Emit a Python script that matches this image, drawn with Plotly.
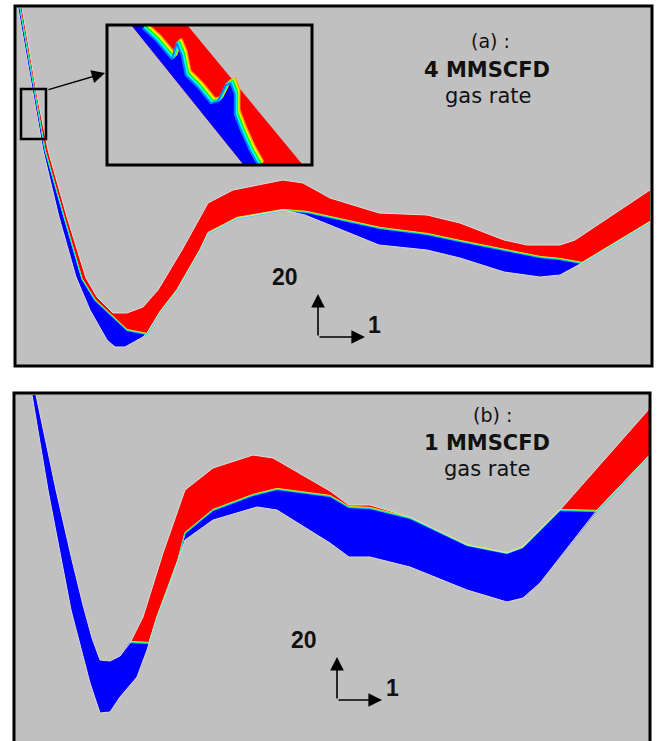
import plotly.graph_objects as go

W, H = 657, 741
GRAY = '#c0c0c0'
RED = '#ff0000'
BLUE = '#0000ff'
FONT = 'Arial, Liberation Sans, sans-serif'
FONT_W = 'DejaVu Sans, Verdana, sans-serif'

# ---------------- panel (a): 4 MMSCFD ----------------
a_top_x = [22, 38, 48, 67, 86, 97, 113, 127, 143, 158, 182, 208, 233, 283, 303, 330, 379, 427, 460, 504, 527, 560, 575, 650]
a_top_y = [8, 100, 150, 217, 278, 297, 313, 313, 307, 290, 250, 203, 190, 180, 183, 198, 213, 215, 223, 240, 245, 245, 240, 190]
a_bot_x = [18, 34, 43, 59, 76, 90, 107, 115, 125, 143, 147, 160, 177, 200, 208, 237, 283, 305, 379, 427, 460, 504, 540, 560, 582, 650]
a_bot_y = [8, 100, 150, 217, 277, 310, 340, 347, 347, 337, 333, 312, 290, 250, 233, 218, 210, 215, 245, 250, 258, 272, 277, 275, 263, 222]
a_liq1_x = [20, 36, 45, 64, 82, 95, 107, 127, 147, 143, 125, 115, 107, 90, 76, 59, 43, 34, 18]
a_liq1_y = [8, 100, 150, 217, 279, 300, 311, 330, 334, 337, 347, 347, 340, 310, 277, 217, 150, 100, 8]
a_liq2_x = [283, 307, 380, 427, 460, 504, 540, 560, 582, 560, 540, 504, 460, 427, 379, 305]
a_liq2_y = [210, 212, 228, 234, 241, 250, 257, 259, 263, 275, 277, 272, 258, 250, 245, 215]
a_if_x = [20, 36, 45, 64, 82, 95, 107, 127, 147, 160, 177, 200, 208, 237, 283, 307, 380, 427, 460, 504, 540, 560, 582, 650]
a_if_y = [8, 100, 150, 217, 279, 300, 311, 330, 334, 312, 290, 250, 233, 218, 210, 212, 228, 234, 241, 250, 257, 259, 263, 222]

# inset (zoomed view of the descending leg)
ins_band_x = [132, 188, 302, 243]
ins_band_y = [26, 26, 164, 164]
ins_if_x = [145, 158, 174, 179, 184, 188, 200, 213, 220, 228, 233, 237, 237, 243, 252, 261]
ins_if_y = [26, 38, 57, 41, 53, 73, 85, 101, 99, 83, 81, 92, 112, 128, 148, 164]

# ---------------- panel (b): 1 MMSCFD ----------------
b_top_x = [36, 56, 72, 83, 92, 100, 110, 120, 130, 143, 163, 185, 213, 253, 273, 330, 349, 370, 410, 467, 507, 523, 560, 650]
b_top_y = [395, 490, 560, 605, 638, 660, 661, 656, 643, 617, 553, 490, 468, 455, 458, 491, 505, 505, 517, 545, 553, 547, 510, 408]
b_bot_x = [32, 48, 71, 90, 100, 110, 120, 137, 147, 157, 170, 185, 213, 257, 277, 330, 349, 370, 410, 467, 507, 523, 540, 597, 650]
b_bot_y = [395, 490, 610, 683, 713, 712, 697, 677, 650, 617, 583, 540, 520, 507, 510, 543, 557, 557, 567, 590, 602, 598, 583, 510, 455]
b_liq1_x = [36, 56, 72, 83, 92, 100, 110, 120, 130, 149, 147, 137, 120, 110, 100, 90, 71, 48, 32]
b_liq1_y = [395, 490, 560, 605, 638, 660, 661, 656, 642, 643, 650, 677, 697, 712, 713, 683, 610, 490, 395]
b_liq2_x = [178, 185, 213, 253, 277, 330, 349, 370, 410, 467, 507, 523, 560, 597, 540, 523, 507, 467, 410, 370, 349, 330, 277, 257, 213, 185]
b_liq2_y = [560, 533, 510, 495, 489, 496, 507, 508, 518, 545, 553, 547, 510, 511, 583, 598, 602, 590, 567, 557, 557, 543, 510, 507, 520, 540]
b_if_x = [130, 149, 157, 170, 178, 185, 213, 253, 277, 330, 349, 370, 410, 467, 507, 523, 560, 597, 650]
b_if_y = [642, 643, 617, 583, 560, 533, 510, 495, 489, 496, 507, 508, 518, 545, 553, 547, 510, 511, 455]

# labels
a_label = ['(a) :', '<b>4 MMSCFD</b>', 'gas rate']
b_label = ['(b) :', '<b>1 MMSCFD</b>', 'gas rate']
axis_labels = ['<b>20</b>', '<b>1</b>']

fig = go.Figure()


def poly(xs, ys, color):
    fig.add_trace(go.Scatter(x=list(xs), y=list(ys), mode='lines', fill='toself',
                             fillcolor=color, line=dict(width=0),
                             hoverinfo='skip', showlegend=False))


def line(xs, ys, color, width, dx=0.0, dy=0.0):
    fig.add_trace(go.Scatter(x=[v + dx for v in xs], y=[v + dy for v in ys], mode='lines',
                             line=dict(color=color, width=width),
                             hoverinfo='skip', showlegend=False))


def pipe(tx, ty, bx, by, liquids, ifx, ify):
    poly(tx + bx[::-1], ty + by[::-1], RED)
    for lx, ly in liquids:
        poly(lx, ly, BLUE)
    line(ifx, ify, '#ffee00', 1, dy=-0.6)
    line(ifx, ify, '#40ff60', 1)
    line(ifx, ify, '#00e0ff', 0.8, dy=0.7)
    line(tx, ty, '#dedede', 1)
    line(bx, by, '#dedede', 1)


pipe(a_top_x, a_top_y, a_bot_x, a_bot_y, [(a_liq1_x, a_liq1_y), (a_liq2_x, a_liq2_y)], a_if_x, a_if_y)
pipe(b_top_x, b_top_y, b_bot_x, b_bot_y, [(b_liq1_x, b_liq1_y), (b_liq2_x, b_liq2_y)], b_if_x, b_if_y)

# inset
poly(ins_band_x, ins_band_y, RED)
poly([ins_band_x[0]] + ins_if_x + [ins_band_x[3]], [ins_band_y[0]] + ins_if_y + [ins_band_y[3]], BLUE)
line(ins_if_x, ins_if_y, '#ff9900', 2.5, dx=2.2, dy=-2.2)
line(ins_if_x, ins_if_y, '#ffff00', 2.5, dx=1.1, dy=-1.1)
line(ins_if_x, ins_if_y, '#00ff00', 2.5)
line(ins_if_x, ins_if_y, '#00ffff', 2.5, dx=-1.1, dy=1.1)
line(ins_if_x, ins_if_y, '#0080ff', 2, dx=-2.2, dy=2.2)

shapes = [
    dict(type='rect', xref='x', yref='y', x0=15, y0=6, x1=652, y1=366, fillcolor=GRAY, line=dict(width=0), layer='below'),
    dict(type='rect', xref='x', yref='y', x0=14, y0=393, x1=650, y1=770, fillcolor=GRAY, line=dict(width=0), layer='below'),
    dict(type='rect', xref='x', yref='y', x0=107, y0=25, x1=312, y1=165, fillcolor=GRAY, line=dict(width=0), layer='below'),
    dict(type='rect', xref='x', yref='y', x0=15, y0=6, x1=652, y1=366, line=dict(color='black', width=3), layer='above'),
    dict(type='rect', xref='x', yref='y', x0=14, y0=393, x1=650, y1=770, line=dict(color='black', width=3), layer='above'),
    dict(type='rect', xref='x', yref='y', x0=107, y0=25, x1=312, y1=165, line=dict(color='black', width=3), layer='above'),
    dict(type='rect', xref='x', yref='y', x0=21, y0=89, x1=46, y1=139, line=dict(color='black', width=2.5), layer='above'),
]

ann = []


def text(x, y, s, size, family=FONT):
    ann.append(dict(x=x, y=y, xref='x', yref='y', text=s, showarrow=False,
                    font=dict(family=family, size=size, color='#111111'),
                    xanchor='center', yanchor='middle'))


def arrow(x0, y0, x1, y1, w=1.6, s=1.7):
    ann.append(dict(x=x1, y=y1, ax=x0, ay=y0, xref='x', yref='y', axref='x', ayref='y',
                    text='', showarrow=True, arrowhead=2, arrowsize=s, arrowwidth=w,
                    arrowcolor='black'))


text(490, 41, a_label[0], 19, FONT_W)
text(487, 70, a_label[1], 21, FONT_W)
text(488, 96, a_label[2], 21, FONT_W)
text(492, 415, b_label[0], 19, FONT_W)
text(487, 443, b_label[1], 21, FONT_W)
text(487, 469, b_label[2], 21, FONT_W)

text(285, 277, axis_labels[0], 23)
text(374, 325, axis_labels[1], 23)
text(304, 640, axis_labels[0], 23)
text(392, 688, axis_labels[1], 23)

arrow(318, 337, 318, 294)
arrow(318, 337, 365, 337)
arrow(337, 700, 337, 657)
arrow(337, 700, 382, 700)
arrow(47, 90, 105, 73, w=1.4, s=1.9)

fig.update_layout(
    width=W, height=H, margin=dict(l=0, r=0, t=0, b=0),
    paper_bgcolor='white', plot_bgcolor='white',
    xaxis=dict(range=[0, W], visible=False, fixedrange=True),
    yaxis=dict(range=[H, 0], visible=False, fixedrange=True),
    shapes=shapes, annotations=ann, showlegend=False,
)

fig.write_html('out.html', config={'displayModeBar': False},
               post_script="document.body.style.margin='0px';document.body.style.overflow='hidden';")
